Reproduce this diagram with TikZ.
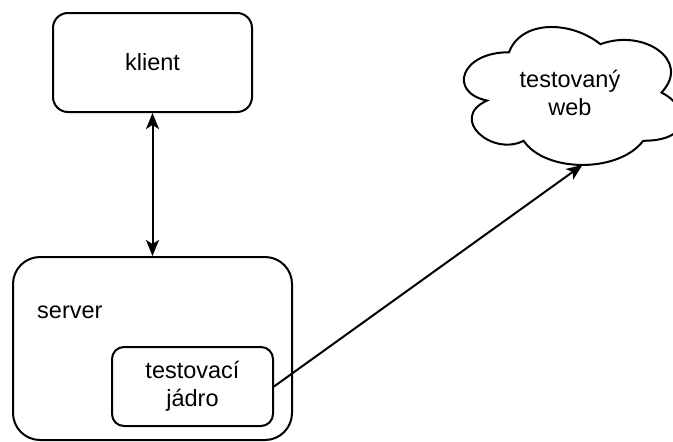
\documentclass[tikz,border=0pt]{standalone}
\usepackage{fontspec}
\setmainfont{Liberation Sans}
\usetikzlibrary{arrows.meta}
\tikzset{
  box/.style={draw, line width=2pt, rectangle, inner sep=0pt, align=center},
  link/.style={line width=2pt, -{Stealth[length=16pt,width=13pt,inset=4pt]}},
  biglink/.style={line width=2pt, {Stealth[length=16pt,width=13pt,inset=4pt]}-{Stealth[length=16pt,width=13pt,inset=4pt]}},
  lbl/.style={inner sep=0pt, align=center, font=\fontsize{23.5}{27.5}\selectfont}
}
\begin{document}
\begin{tikzpicture}[x=1pt, y=-1pt]
  \useasboundingbox (0,0) rectangle (673,442);
  \clip (0,0) rectangle (673,442);

  % client
  \node[box, minimum width=199pt, minimum height=99pt, rounded corners=15pt,
        font=\fontsize{23.5}{27.5}\selectfont] (klient) at (152.5,62.5) {klient};

  % server with its testing core
  \node[box, minimum width=279pt, minimum height=183pt, rounded corners=27pt] (server) at (152.5,348.5) {};
  \node[lbl, anchor=base west] (serverlbl) at (37,318) {server};
  \node[box, minimum width=161pt, minimum height=79pt, rounded corners=12pt,
        font=\fontsize{23.5}{27.5}\selectfont] (jadro) at (192.5,386.5) {testovací\\jádro};

  % tested web (cloud)
  \begin{scope}[shift={(448,12)}, x=244pt, y=-161pt]
    \draw[line width=2pt, fill=white]
      (0.25,0.25) .. controls (0.05,0.25) and (0,0.5) .. (0.16,0.55)
      .. controls (0,0.66) and (0.18,0.9) .. (0.31,0.8)
      .. controls (0.4,1) and (0.7,1) .. (0.8,0.8)
      .. controls (1,0.8) and (1,0.6) .. (0.875,0.5)
      .. controls (1,0.3) and (0.8,0.1) .. (0.625,0.2)
      .. controls (0.5,0.05) and (0.3,0.05) .. (0.25,0.25) -- cycle;
    \coordinate (webin) at (0.551,0.95);
  \end{scope}
  \node[lbl] (web) at (570,93) {testovaný\\web};

  % connectors
  \draw[biglink] (klient.south) -- (server.north);
  \draw[link] (jadro.east) -- (webin);
\end{tikzpicture}
\end{document}
